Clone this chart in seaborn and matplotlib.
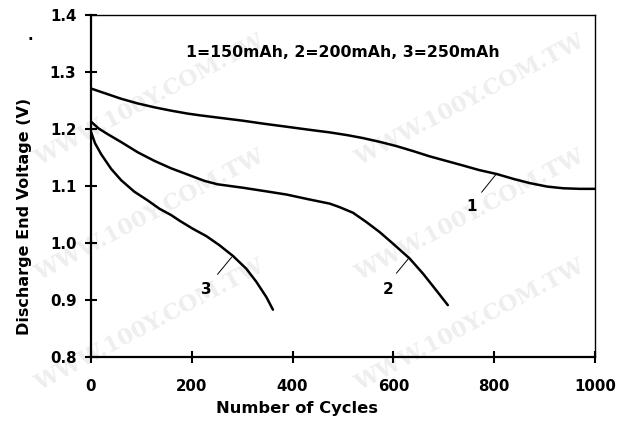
import pandas as pd
import seaborn as sns
import matplotlib
matplotlib.use('Agg')
import matplotlib.pyplot as plt

# curve data (cycles, volts)
cyc_1 = [0, 30, 60, 92, 126, 160, 192, 216, 252, 301, 345, 388, 430, 474, 510,
         540, 575, 606, 640, 672, 705, 738, 770, 805, 840, 871, 905, 937, 970, 1000]
volt_1 = [1.271, 1.262, 1.253, 1.245, 1.238, 1.232, 1.227, 1.224, 1.220, 1.2146, 1.209,
          1.204, 1.199, 1.194, 1.189, 1.184, 1.177, 1.170, 1.161, 1.152, 1.144, 1.136,
          1.128, 1.121, 1.112, 1.105, 1.099, 1.096, 1.095, 1.095]

cyc_2 = [0, 15, 33, 60, 93, 126, 159, 192, 225, 251, 301, 345, 388, 430, 474, 493,
         520, 546, 573, 599, 632, 659, 685, 708]
volt_2 = [1.213, 1.201, 1.191, 1.177, 1.159, 1.144, 1.131, 1.120, 1.109, 1.103, 1.097,
          1.091, 1.085, 1.077, 1.069, 1.063, 1.053, 1.037, 1.019, 0.999, 0.973, 0.946,
          0.917, 0.891]

cyc_3 = [0, 8, 20, 40, 60, 86, 112, 136, 159, 176, 202, 229, 255, 282, 308, 328,
         348, 361]
volt_3 = [1.195, 1.175, 1.156, 1.130, 1.110, 1.090, 1.075, 1.060, 1.049, 1.039, 1.025,
          1.012, 0.996, 0.977, 0.955, 0.932, 0.905, 0.883]

x_ticks = [0, 200, 400, 600, 800, 1000]
y_ticks = [0.8, 0.9, 1.0, 1.1, 1.2, 1.3, 1.4]

# curve label: text position, leader start, leader end
labels = {
    '1': [(755, 1.064), (775, 1.089), (805, 1.122)],
    '2': [(589, 0.919), (606, 0.947), (632, 0.975)],
    '3': [(229, 0.919), (251, 0.945), (279, 0.975)],
}

df = pd.concat([
    pd.DataFrame({'cycles': cyc_1, 'voltage': volt_1, 'cell': '1'}),
    pd.DataFrame({'cycles': cyc_2, 'voltage': volt_2, 'cell': '2'}),
    pd.DataFrame({'cycles': cyc_3, 'voltage': volt_3, 'cell': '3'}),
])

sns.set_style('white')
plt.rcParams['font.family'] = ['DejaVu Sans']
plt.rcParams['font.weight'] = 'bold'
plt.rcParams['text.color'] = 'black'
plt.rcParams['axes.labelcolor'] = 'black'
plt.rcParams['xtick.color'] = 'black'
plt.rcParams['ytick.color'] = 'black'

fig = plt.figure(figsize=(6.26, 4.22), dpi=100)
ax = fig.add_axes([91 / 626, 65 / 422, 504 / 626, 342 / 422])

# faint watermark behind the chart
for cx, cy in [(150, 100), (150, 215), (150, 325), (470, 100), (470, 215), (470, 325)]:
    fig.text(cx / 626, 1 - cy / 422, 'WWW.100Y.COM.TW', rotation=28,
             fontsize=16, color='#eeeeee', family='DejaVu Serif',
             fontweight='bold', ha='center', va='center', zorder=0)

sns.lineplot(data=df, x='cycles', y='voltage', units='cell', estimator=None,
             sort=False, color='black', linewidth=1.8, ax=ax)

for lab, (txt, p0, p1) in labels.items():
    ax.plot([p0[0], p1[0]], [p0[1], p1[1]], color='black', linewidth=0.7)
    ax.text(txt[0], txt[1], lab, fontsize=11, fontweight='bold',
            ha='center', va='center')

ax.text(500, 1.335, '1=150mAh, 2=200mAh, 3=250mAh', fontsize=11.3,
        fontweight='bold', ha='center', va='center')

ax.set_xlim(0, 1000)
ax.set_ylim(0.8, 1.4)
ax.set_xticks(x_ticks)
ax.set_yticks(y_ticks)
ax.set_xticklabels([str(t) for t in x_ticks], fontsize=10.8, fontweight='bold')
ax.set_yticklabels([f'{t:.1f}' for t in y_ticks], fontsize=10.8, fontweight='bold')
ax.tick_params(axis='both', direction='inout', length=9, width=1.5,
               color='black', bottom=True, left=True, top=False, right=False)
ax.tick_params(axis='x', pad=11)
ax.tick_params(axis='y', pad=6)

ax.set_xlabel('Number of Cycles', fontsize=11.8, fontweight='bold')
ax.set_ylabel('Discharge End Voltage (V)', fontsize=11.5, fontweight='bold')
ax.xaxis.set_label_coords(0.408, -0.128)
ax.yaxis.set_label_coords(-0.118, 0.41)

for side in ['left', 'bottom']:
    ax.spines[side].set_linewidth(1.6)
    ax.spines[side].set_color('black')
for side in ['top', 'right']:
    ax.spines[side].set_linewidth(1.0)
    ax.spines[side].set_color('black')
ax.patch.set_alpha(0)
ax.set_zorder(2)

fig.text(30 / 626, 1 - 40 / 422, '.', fontsize=11, fontweight='bold', ha='center')

fig.savefig('out.png', dpi=100)
